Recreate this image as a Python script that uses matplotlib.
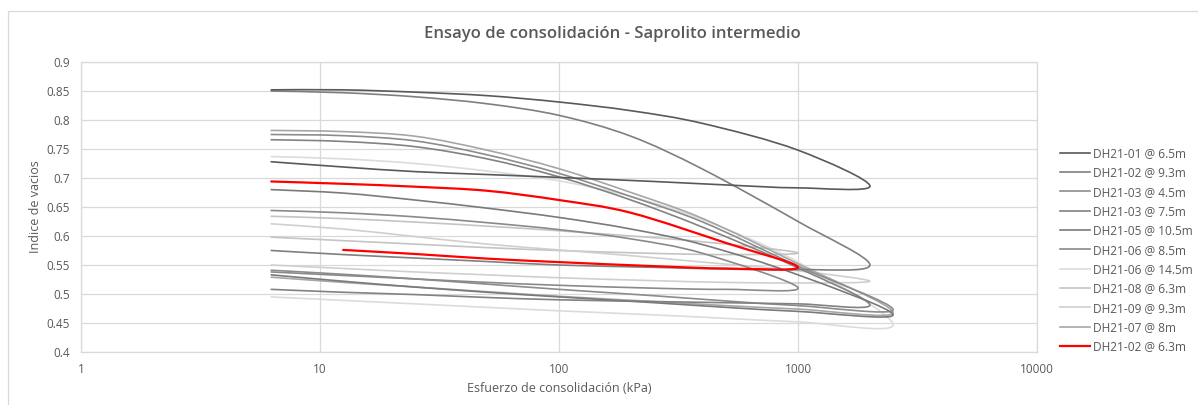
import matplotlib
matplotlib.use("Agg")
import matplotlib.pyplot as plt
import numpy as np
from matplotlib.path import Path
from matplotlib.patches import PathPatch, Rectangle
from matplotlib.lines import Line2D

plt.rcParams['font.family'] = ['Open Sans', 'DejaVu Sans']

# ---------------- data (loading branch followed by unloading branch) ----------------
labels = ["DH21-01 @ 6.5m", "DH21-02 @ 9.3m", "DH21-03 @ 4.5m", "DH21-03 @ 7.5m",
          "DH21-05 @ 10.5m", "DH21-06 @ 8.5m", "DH21-06 @ 14.5m", "DH21-08 @ 6.3m",
          "DH21-09 @ 9.3m", "DH21-07 @ 8m", "DH21-02 @ 6.3m"]
colors = ["#595959", "#7f7f7f", "#8c8c8c", "#828282", "#7a7a7a", "#8a8a8a",
          "#dcdcdc", "#c4c4c4", "#cfcfcf", "#a6a6a6", "#ff0000"]

stress_s1 = [6.25, 12.5, 25, 50, 100, 200, 400, 1000, 2000, 1000, 500, 250, 100, 50, 25, 12.5, 6.25]
void_s1 = [0.852, 0.852, 0.848, 0.842, 0.831, 0.816, 0.794, 0.748, 0.686,
           0.683, 0.688, 0.694, 0.701, 0.706, 0.711, 0.719, 0.728]

stress_s2 = [6.25, 12.5, 25, 50, 100, 200, 400, 1000, 2000, 1000, 500, 250, 100, 50, 25, 12.5, 6.25]
void_s2 = [0.850, 0.847, 0.840, 0.828, 0.808, 0.772, 0.715, 0.625, 0.550,
           0.542, 0.543, 0.546, 0.550, 0.556, 0.562, 0.568, 0.575]

stress_s3 = [6.25, 12.5, 25, 50, 100, 200, 400, 1000, 2500, 1000, 500, 250, 100, 50, 25, 12.5, 6.25]
void_s3 = [0.775, 0.773, 0.764, 0.740, 0.708, 0.668, 0.624, 0.548, 0.473,
           0.480, 0.488, 0.497, 0.508, 0.517, 0.526, 0.534, 0.541]

stress_s4 = [6.25, 12.5, 25, 50, 100, 200, 400, 1000, 2000, 1000, 500, 250, 100, 50, 25, 12.5, 6.25]
void_s4 = [0.766, 0.763, 0.754, 0.733, 0.702, 0.662, 0.615, 0.545, 0.481,
           0.483, 0.485, 0.487, 0.490, 0.494, 0.499, 0.503, 0.508]

stress_s5 = [6.25, 12.5, 25, 50, 100, 200, 400, 1000, 2500, 1000, 500, 250, 100, 50, 25, 12.5, 6.25]
void_s5 = [0.680, 0.674, 0.662, 0.648, 0.632, 0.612, 0.585, 0.533, 0.464,
           0.470, 0.477, 0.485, 0.495, 0.503, 0.512, 0.522, 0.533]

stress_s6 = [6.25, 12.5, 25, 50, 100, 200, 400, 1000, 500, 250, 100, 50, 25, 12.5, 6.25]
void_s6 = [0.644, 0.640, 0.633, 0.623, 0.611, 0.595, 0.570, 0.511,
           0.508, 0.510, 0.515, 0.520, 0.526, 0.532, 0.538]

stress_s7 = [6.25, 12.5, 25, 50, 100, 200, 400, 1000, 2500, 1000, 500, 250, 100, 50, 25, 12.5, 6.25]
void_s7 = [0.737, 0.733, 0.725, 0.712, 0.695, 0.668, 0.628, 0.555, 0.447,
           0.452, 0.458, 0.464, 0.471, 0.477, 0.483, 0.489, 0.495]

stress_s8 = [6.25, 12.5, 25, 50, 100, 200, 400, 1000, 500, 250, 100, 50, 25, 12.5, 6.25]
void_s8 = [0.634, 0.630, 0.624, 0.617, 0.609, 0.600, 0.590, 0.571,
           0.568, 0.570, 0.575, 0.580, 0.586, 0.592, 0.598]

stress_s9 = [6.25, 12.5, 25, 50, 100, 200, 400, 1000, 2000, 1000, 500, 250, 100, 50, 25, 12.5, 6.25]
void_s9 = [0.621, 0.612, 0.599, 0.586, 0.576, 0.566, 0.555, 0.540, 0.522,
           0.519, 0.520, 0.523, 0.528, 0.533, 0.538, 0.544, 0.550]

stress_s10 = [6.25, 12.5, 25, 50, 100, 200, 400, 1000, 2500, 1000, 500, 250, 100, 50, 25, 12.5, 6.25]
void_s10 = [0.782, 0.780, 0.772, 0.748, 0.716, 0.675, 0.630, 0.552, 0.468,
            0.474, 0.480, 0.487, 0.496, 0.504, 0.512, 0.520, 0.529]

stress_s11 = [6.25, 12.5, 25, 50, 100, 200, 500, 1000, 500, 250, 100, 50, 25, 12.5]
void_s11 = [0.694, 0.690, 0.685, 0.678, 0.662, 0.640, 0.588, 0.546,
            0.544, 0.548, 0.555, 0.561, 0.569, 0.576]

stress_series = [stress_s1, stress_s2, stress_s3, stress_s4, stress_s5, stress_s6,
                 stress_s7, stress_s8, stress_s9, stress_s10, stress_s11]
void_series = [void_s1, void_s2, void_s3, void_s4, void_s5, void_s6,
               void_s7, void_s8, void_s9, void_s10, void_s11]

x_ticks = [1, 10, 100, 1000, 10000]
y_ticks = [0.4, 0.45, 0.5, 0.55, 0.6, 0.65, 0.7, 0.75, 0.8, 0.85, 0.9]

# ---------------- figure ----------------
W, H = 1198, 405
fig = plt.figure(figsize=(W / 100, H / 100), dpi=100)
fig.patch.set_facecolor("white")

# chart area border (only top/left visible in the reference)
fig.patches.append(Rectangle((8 / W, -0.05), 1.2, 1 - 11 / H + 0.05, transform=fig.transFigure,
                             fill=False, edgecolor="#d9d9d9", lw=0.9, zorder=0))

L, R, T, B = 81, 1037, 62, 352
ax = fig.add_axes([L / W, 1 - B / H, (R - L) / W, (B - T) / H])
ax.set_xscale("log")
ax.set_xlim(1, 10000)
ax.set_ylim(0.4, 0.9)
ax.set_xticks(x_ticks)
ax.set_xticklabels([str(v) for v in x_ticks])
ax.set_yticks(y_ticks)
ax.set_yticklabels([("%g" % v) for v in y_ticks])
ax.xaxis.set_minor_locator(matplotlib.ticker.NullLocator())
ax.tick_params(axis="both", length=0, labelsize=8.5, colors="#595959", pad=8)
ax.grid(True, which="major", color="#d9d9d9", lw=0.9)
ax.set_axisbelow(True)
for s in ax.spines.values():
    s.set_color("#d9d9d9")
    s.set_linewidth(0.9)

ax.set_xlabel("Esfuerzo de consolidación (kPa)", fontsize=9, color="#595959", labelpad=4)
ax.set_ylabel("Indice de vacios", fontsize=9, color="#595959", labelpad=3)
fig.text(612 / W, 1 - 34 / H, "Ensayo de consolidación - Saprolito intermedio",
         ha="center", va="center", fontsize=12, color="#595959", fontweight="semibold")


def smooth_path(xs, ys):
    pts = ax.transData.transform(np.column_stack([xs, ys]))
    n = len(pts)
    verts = [pts[0]]
    codes = [Path.MOVETO]
    for i in range(n - 1):
        p0 = pts[i - 1] if i > 0 else pts[i]
        p1 = pts[i]
        p2 = pts[i + 1]
        p3 = pts[i + 2] if i + 2 < n else pts[i + 1]
        c1 = p1 + (p2 - p0) / 6.0
        c2 = p2 - (p3 - p1) / 6.0
        verts += [c1, c2, p2]
        codes += [Path.CURVE4] * 3
    data_verts = ax.transData.inverted().transform(np.array(verts))
    return Path(data_verts, codes)


handles = []
order = [6, 7, 8, 9, 2, 3, 4, 5, 1, 0, 10]
for i in order:
    lw = 1.6 if colors[i] == "#ff0000" else 1.2
    ax.add_patch(PathPatch(smooth_path(stress_series[i], void_series[i]), facecolor="none",
                           edgecolor=colors[i], lw=lw, zorder=3 + (1 if i == 10 else 0),
                           capstyle="round", joinstyle="round"))
for i in range(len(labels)):
    lw = 1.6 if colors[i] == "#ff0000" else 1.2
    handles.append(Line2D([], [], color=colors[i], lw=lw))

fig.legend(handles, labels, loc="upper left", bbox_to_anchor=(1060 / W, 1 - 147 / H),
           frameon=False, fontsize=8.6, handlelength=2.5, handletextpad=0.3,
           labelspacing=0.53, labelcolor="#595959", borderaxespad=0, borderpad=0)

fig.savefig("out.png", dpi=100, facecolor="white")
